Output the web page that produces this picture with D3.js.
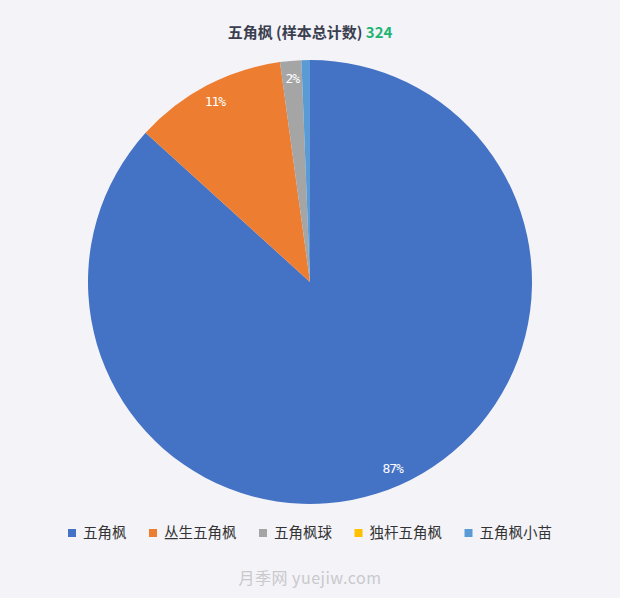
<!DOCTYPE html>
<html>
<head>
<meta charset="utf-8">
<script src="https://cdn.jsdelivr.net/npm/d3@7"></script>
<style>
  html, body { margin: 0; padding: 0; background: #f4f3f8; }
  svg { display: block; font-family: "Noto Sans CJK SC", "Noto Sans", sans-serif; }
</style>
</head>
<body>
<div id="chart"></div>
<script>
// data
const categories = ['五角枫', '丛生五角枫', '五角枫球', '独杆五角枫', '五角枫小苗'];
const counts = [281, 36, 5, 0, 2];
const colors = ['#4472c4', '#ed7d31', '#a5a5a5', '#ffc000', '#5b9bd5'];
const titleText = '五角枫 (样本总计数) ';
const totalText = '324';

const width = 620, height = 598;
const cx = 310, cy = 282, radius = 222;

const svg = d3.select('#chart').append('svg')
  .attr('width', width)
  .attr('height', height);

svg.append('rect')
  .attr('width', width)
  .attr('height', height)
  .attr('fill', '#f4f3f8');

// title
const title = svg.append('text')
  .attr('x', cx)
  .attr('y', 38)
  .attr('text-anchor', 'middle')
  .attr('font-size', 15)
  .attr('font-weight', 'bold');
title.append('tspan').attr('fill', '#3a3f50').text(titleText);
title.append('tspan').attr('fill', '#21b574').text(totalText);

const total = d3.sum(counts);
const data = categories.map((c, i) => ({ name: c, value: counts[i], color: colors[i] }));

const pie = d3.pie().sort(null).value(d => d.value);
const arc = d3.arc().innerRadius(0).outerRadius(radius);
const labelArc = d3.arc().innerRadius(204).outerRadius(204);

const g = svg.append('g').attr('transform', `translate(${cx},${cy})`);
const arcs = pie(data);

g.selectAll('path')
  .data(arcs)
  .enter()
  .append('path')
  .attr('d', arc)
  .attr('fill', d => d.data.color);

// percentage labels, only for slices big enough
g.selectAll('text')
  .data(arcs.filter(d => d.value / total >= 0.015))
  .enter()
  .append('text')
  .attr('transform', d => `translate(${labelArc.centroid(d)})`)
  .attr('text-anchor', 'middle')
  .attr('dy', '0.35em')
  .attr('fill', '#ffffff')
  .attr('font-size', 13)
  .attr('font-family', '"DejaVu Sans Mono", monospace')
  .attr('letter-spacing', -1)
  .text(d => Math.round(d.value / total * 100) + '%');

// legend
const legend = svg.append('g').attr('transform', 'translate(0,533)');
const items = legend.selectAll('g')
  .data(data)
  .enter()
  .append('g');

items.append('rect')
  .attr('y', -4)
  .attr('width', 8)
  .attr('height', 8)
  .attr('fill', d => d.color);

items.append('text')
  .attr('x', 15)
  .attr('dy', '0.35em')
  .attr('font-size', 14.5)
  .attr('fill', '#333')
  .text(d => d.name);

let x = 68;
items.each(function () {
  const w = this.querySelector('text').getComputedTextLength();
  d3.select(this).attr('transform', `translate(${x},0)`);
  x += 15 + w + 22.5;
});

// watermark
svg.append('text')
  .attr('x', cx)
  .attr('y', 584)
  .attr('text-anchor', 'middle')
  .attr('font-size', 16)
  .attr('fill', '#c9c9cc')
  .attr('letter-spacing', 0.5)
  .text('月季网 yuejiw.com');
</script>
</body>
</html>
